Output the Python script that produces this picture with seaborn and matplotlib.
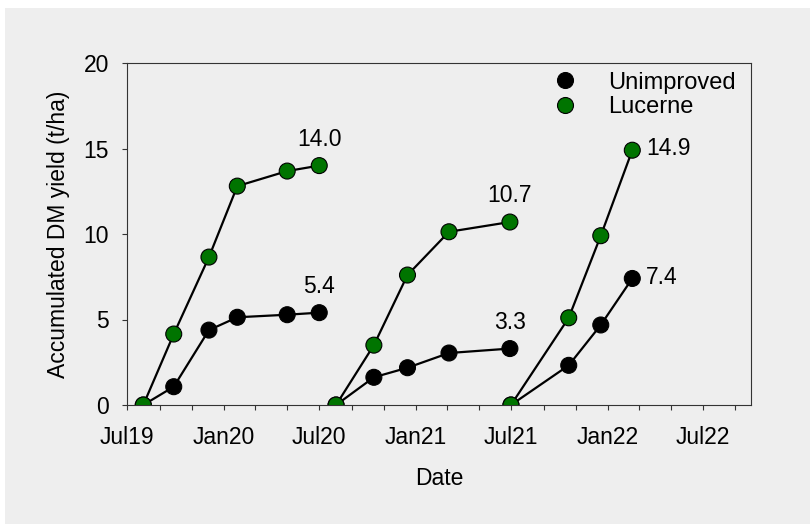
import matplotlib
matplotlib.use("Agg")
import matplotlib.pyplot as plt
import matplotlib.dates as mdates
from matplotlib.patches import Rectangle
import pandas as pd
import seaborn as sns

# Harvest dates and accumulated dry-matter yield (t/ha) for each season
dates_s1 = ["2019-08-01", "2019-09-28", "2019-12-04", "2020-01-27", "2020-05-01", "2020-07-01"]
unimproved_s1 = [0, 1.07, 4.38, 5.13, 5.28, 5.4]
lucerne_s1 = [0, 4.15, 8.65, 12.8, 13.68, 14.0]

dates_s2 = ["2020-08-02", "2020-10-13", "2020-12-16", "2021-03-05", "2021-06-29"]
unimproved_s2 = [0, 1.62, 2.18, 3.04, 3.3]
lucerne_s2 = [0, 3.5, 7.6, 10.13, 10.7]

dates_s3 = ["2021-07-01", "2021-10-19", "2021-12-19", "2022-02-17"]
unimproved_s3 = [0, 2.32, 4.68, 7.4]
lucerne_s3 = [0, 5.1, 9.9, 14.9]

treatments = ["Unimproved", "Lucerne"]
palette = {"Unimproved": "#000000", "Lucerne": "#007400"}

seasons = [
    (dates_s1, unimproved_s1, lucerne_s1),
    (dates_s2, unimproved_s2, lucerne_s2),
    (dates_s3, unimproved_s3, lucerne_s3),
]

rows = []
for treat in treatments:
    for i, (d, u, l) in enumerate(seasons):
        vals = u if treat == "Unimproved" else l
        for date, v in zip(d, vals):
            rows.append({"Date": pd.Timestamp(date), "Yield": v,
                         "Treatment": treat, "Run": f"{treat}-{i}"})
df = pd.DataFrame(rows)

sns.set_style("ticks")
plt.rcParams["font.family"] = ["Liberation Sans", "DejaVu Sans"]
plt.rcParams["text.color"] = "black"
plt.rcParams["axes.labelcolor"] = "black"
plt.rcParams["xtick.labelcolor"] = "black"
plt.rcParams["ytick.labelcolor"] = "black"

bg = "#eeeeee"
fig = plt.figure(figsize=(8.10, 5.24), dpi=100, facecolor="white")
fig.add_artist(Rectangle((5 / 810, 0), 1, (524 - 8) / 524, transform=fig.transFigure,
                         facecolor=bg, edgecolor="none", zorder=-10))
ax = fig.add_axes([127 / 810, 1 - 405 / 524, 624 / 810, 342 / 524])
ax.set_facecolor(bg)

sns.lineplot(data=df, x="Date", y="Yield", units="Run", estimator=None, sort=False,
             color="black", linewidth=1.6, legend=False, ax=ax, zorder=2)
sns.scatterplot(data=df, x="Date", y="Yield", hue="Treatment", hue_order=treatments,
                palette=palette, s=132, edgecolor="black", linewidth=0.8,
                ax=ax, zorder=3)

# Final-yield labels
fs = 16.5
for i, (d, u, l) in enumerate(seasons):
    for vals in (u, l):
        x = pd.Timestamp(d[-1])
        y = vals[-1]
        if i < 2:
            ax.annotate(f"{y:.1f}", (x, y), xytext=(0, 19), textcoords="offset points",
                        ha="center", va="center", fontsize=fs, color="black")
        else:
            ax.annotate(f"{y:.1f}", (x, y), xytext=(10, 1), textcoords="offset points",
                        ha="left", va="center", fontsize=fs, color="black")

ax.set_xlim(pd.Timestamp("2019-07-01"), pd.Timestamp("2022-10-01"))
ax.set_ylim(0, 20)
ax.set_yticks([0, 5, 10, 15, 20])
ax.xaxis.set_major_locator(mdates.MonthLocator(bymonth=[1, 7]))
ax.xaxis.set_minor_locator(mdates.MonthLocator(bymonth=[3, 5, 9, 11]))
ax.xaxis.set_major_formatter(mdates.DateFormatter("%b%y"))

ax.tick_params(axis="x", which="both", direction="out", length=3.6, width=0.8,
               color="#333333", labelcolor="black", pad=11.5, labelsize=fs)
ax.tick_params(axis="y", which="both", direction="out", length=3.6, width=0.8,
               color="#333333", labelcolor="black", pad=9.5, labelsize=fs)
ax.tick_params(top=False, right=False)

for s in ax.spines.values():
    s.set_visible(True)
    s.set_color("#333333")
    s.set_linewidth(0.8)

ax.set_xlabel("Date", fontsize=fs, color="black")
ax.set_ylabel("Accumulated DM yield (t/ha)", fontsize=fs, color="black")
ax.xaxis.set_label_coords(0.5, -0.181)
ax.yaxis.set_label_coords(-0.0913, 0.5)

handles, labels = ax.get_legend_handles_labels()
for h in handles:
    if hasattr(h, "set_markersize"):
        h.set_markersize(11.5)
leg = ax.legend(handles, labels, frameon=False, loc="upper left",
                bbox_to_anchor=(0.683, 0.975), borderaxespad=0, borderpad=0,
                handlelength=1.0, handletextpad=1.32, labelspacing=0.1, fontsize=17)
for t in leg.get_texts():
    t.set_color("black")

fig.savefig("out.png", dpi=100, facecolor=fig.get_facecolor())
